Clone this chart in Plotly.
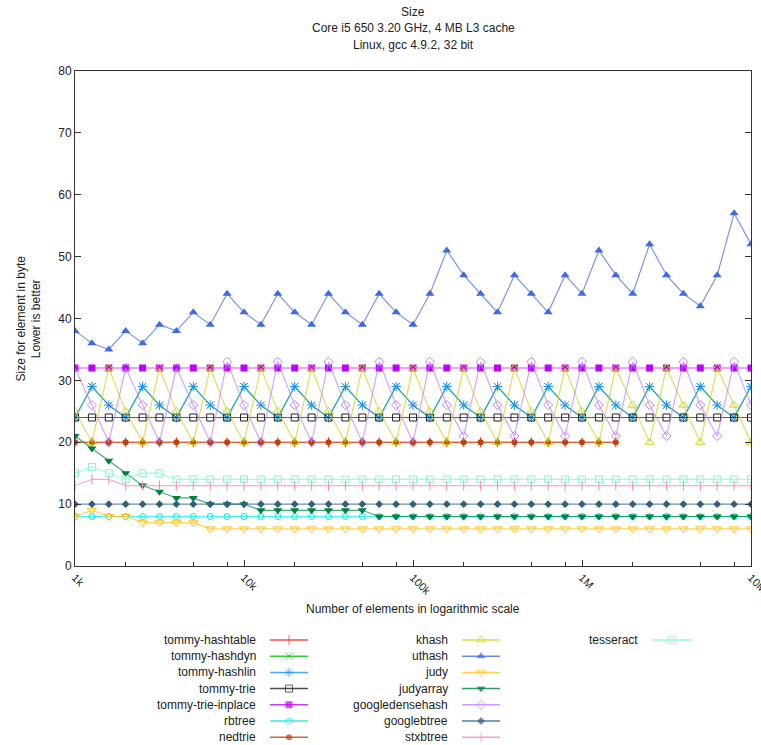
import plotly.graph_objects as go

# ---------------- data ----------------
x_elements = [1000, 1259, 1585, 1995, 2512, 3162, 3981, 5012, 6310, 7943,
              10000, 12589, 15849, 19953, 25119, 31623, 39811, 50119, 63096, 79433,
              100000, 125893, 158489, 199526, 251189, 316228, 398107, 501187, 630957, 794328,
              1000000, 1258925, 1584893, 1995262, 2511886, 3162278, 3981072, 5011872, 6309573, 7943282,
              10000000]

tommy_hashtable = [20, 20, 20, 20, 20, 20, 20, 20, 20, 20, 20, 20, 20, 20, 20, 20, 20, 20, 20, 20,
                   20, 20, 20, 20, 20, 20, 20, 20, 20, 20, 20, 20, 20]
tommy_hashdyn = [24, 29, 26, 24, 29, 26, 24, 29, 26, 24, 29, 26, 24, 29, 26, 24, 29, 26, 24, 29,
                 26, 24, 29, 26, 24, 29, 26, 24, 29, 26, 24, 29, 26, 24, 29, 26, 24, 29, 26, 24, 29]
tommy_hashlin = [24, 29, 26, 24, 29, 26, 24, 29, 26, 24, 29, 26, 24, 29, 26, 24, 29, 26, 24, 29,
                 26, 24, 29, 26, 24, 29, 26, 24, 29, 26, 24, 29, 26, 24, 29, 26, 24, 29, 26, 24, 29]
tommy_trie = [24, 24, 24, 24, 24, 24, 24, 24, 24, 24, 24, 24, 24, 24, 24, 24, 24, 24, 24, 24,
              24, 24, 24, 24, 24, 24, 24, 24, 24, 24, 24, 24, 24, 24, 24, 24, 24, 24, 24, 24, 24]
tommy_trie_inplace = [32, 32, 32, 32, 32, 32, 32, 32, 32, 32, 32, 32, 32, 32, 32, 32, 32, 32, 32, 32,
                      32, 32, 32, 32, 32, 32, 32, 32, 32, 32, 32, 32, 32, 32, 32, 32, 32, 32, 32, 32, 32]
rbtree = [8, 8, 8, 8, 8, 8, 8, 8, 8, 8, 8, 8, 8, 8, 8, 8, 8, 8, 8, 8,
          8, 8, 8, 8, 8, 8, 8, 8, 8, 8, 8, 8, 8, 8, 8, 8, 8, 8, 8, 8, 8]
nedtrie = [20, 20, 20, 20, 20, 20, 20, 20, 20, 20, 20, 20, 20, 20, 20, 20, 20, 20, 20, 20,
           20, 20, 20, 20, 20, 20, 20, 20, 20, 20, 20, 20, 20]
khash = [25, 20, 32, 25, 20, 32, 25, 20, 32, 25, 20, 32, 25, 20, 32, 25, 20, 32, 25, 20,
         32, 25, 20, 32, 25, 20, 32, 25, 20, 32, 25, 20, 32, 26, 20, 32, 26, 20, 32, 26, 20]
uthash = [38, 36, 35, 38, 36, 39, 38, 41, 39, 44, 41, 39, 44, 41, 39, 44, 41, 39, 44, 41,
          39, 44, 51, 47, 44, 41, 47, 44, 41, 47, 44, 51, 47, 44, 52, 47, 44, 42, 47, 57, 52]
judy = [8, 9, 8, 8, 7, 7, 7, 7, 6, 6, 6, 6, 6, 6, 6, 6, 6, 6, 6, 6,
        6, 6, 6, 6, 6, 6, 6, 6, 6, 6, 6, 6, 6, 6, 6, 6, 6, 6, 6, 6, 6]
judyarray = [21, 19, 17, 15, 13, 12, 11, 11, 10, 10, 10, 9, 9, 9, 9, 9, 9, 9, 8, 8,
             8, 8, 8, 8, 8, 8, 8, 8, 8, 8, 8, 8, 8, 8, 8, 8, 8, 8, 8, 8, 8]
googledensehash = [32, 26, 20, 32, 26, 20, 32, 26, 20, 33, 26, 20, 33, 26, 20, 33, 26, 20, 33, 26,
                   20, 33, 26, 21, 33, 26, 21, 33, 26, 21, 33, 26, 21, 33, 26, 21, 33, 26, 21, 33, 26]
googlebtree = [10, 10, 10, 10, 10, 10, 10, 10, 10, 10, 10, 10, 10, 10, 10, 10, 10, 10, 10, 10,
               10, 10, 10, 10, 10, 10, 10, 10, 10, 10, 10, 10, 10, 10, 10, 10, 10, 10, 10, 10, 10]
stxbtree = [13, 14, 14, 13, 13, 13, 13, 13, 13, 13, 13, 13, 13, 13, 13, 13, 13, 13, 13, 13,
            13, 13, 13, 13, 13, 13, 13, 13, 13, 13, 13, 13, 13, 13, 13, 13, 13, 13, 13, 13, 13]
tesseract = [15, 16, 15, 14, 15, 15, 14, 14, 14, 14, 14, 14, 14, 14, 14, 14, 14, 14, 14, 14,
             14, 14, 14, 14, 14, 14, 14, 14, 14, 14, 14, 14, 14, 14, 14, 14, 14, 14, 14, 14, 14]

x_tick_vals = [1000, 10000, 100000, 1000000, 10000000]
x_tick_text = ["1k", "10k", "100k", "1M", "10M"]
x_minor_vals = [2000, 5000, 8000, 20000, 50000, 80000, 200000, 500000, 800000,
                2000000, 5000000, 8000000]

title_lines = ["Size", "Core i5 650 3.20 GHz, 4 MB L3 cache", "Linux, gcc 4.9.2, 32 bit"]

# ---------------- styles ----------------
series = [
    ("tommy-hashtable", tommy_hashtable, "#ff2020", "line-ns", 7, 1),
    ("tommy-hashdyn", tommy_hashdyn, "#00c000", "x-thin", 7, 1),
    ("tommy-hashlin", tommy_hashlin, "#1e90ff", "asterisk", 8, 1),
    ("tommy-trie", tommy_trie, "#202020", "square-open", 7, 1),
    ("tommy-trie-inplace", tommy_trie_inplace, "#c000ff", "square", 7, 0),
    ("rbtree", rbtree, "#00e8e8", "circle-open", 6, 1),
    ("nedtrie", nedtrie, "#c04000", "circle", 6, 0),
    ("khash", khash, "#d0d020", "triangle-up-open", 8, 1),
    ("uthash", uthash, "#4169e1", "triangle-up", 8, 0),
    ("judy", judy, "#ffc020", "triangle-down-open", 8, 1),
    ("judyarray", judyarray, "#008040", "triangle-down", 8, 0),
    ("googledensehash", googledensehash, "#c080ff", "diamond-open", 7, 1),
    ("googlebtree", googlebtree, "#306080", "diamond", 6, 0),
    ("stxbtree", stxbtree, "#ff80c0", "line-ns", 7, 1),
    ("tesseract", tesseract, "#80f8c8", "square-open", 7, 1),
]


def light(hexcol, a=0.7):
    h = hexcol.lstrip("#")
    r, g, b = int(h[0:2], 16), int(h[2:4], 16), int(h[4:6], 16)
    return f"rgba({r},{g},{b},{a})"


W, H = 761, 745
ML, MR, MT, MB = 75, 10, 71, 0
PLOT_BOTTOM = 566
paper_h = H - MT - MB
main_bottom = (H - PLOT_BOTTOM) / paper_h
legend_top = 0.2

FONT = "Liberation Sans"

fig = go.Figure()

for name, vals, col, sym, size, lw in series:
    fig.add_trace(go.Scatter(
        x=x_elements[:len(vals)], y=vals, mode="lines+markers", name=name,
        line=dict(color=light(col), width=1.2),
        marker=dict(symbol=sym, size=size, color=col,
                    line=dict(color=col, width=lw if lw else 0)),
        showlegend=False, xaxis="x", yaxis="y",
    ))

# ---------------- custom gnuplot-style legend ----------------
cols = [(258, 270, 308), (450, 462, 500), (640, 652, 692)]
row0, drow = 640, 16.2
annotations = []
for i, (name, vals, col, sym, size, lw) in enumerate(series):
    c = i // 7
    r = i % 7
    lx, sx0, sx1 = cols[c]
    yy = row0 + r * drow
    fig.add_trace(go.Scatter(
        x=[sx0, (sx0 + sx1) / 2, sx1], y=[yy, yy, yy], mode="lines+markers",
        line=dict(color=light(col, 0.8), width=1.5),
        marker=dict(symbol=sym, size=[0, size, 0], color=col,
                    line=dict(color=col, width=lw if lw else 0)),
        showlegend=False, hoverinfo="skip", xaxis="x2", yaxis="y2",
    ))
    annotations.append(dict(
        x=lx, y=yy, xref="x2", yref="y2", text=name, showarrow=False,
        xanchor="right", yanchor="middle", font=dict(family=FONT, size=12, color="#222222"),
    ))

# titles
for k, t in enumerate(title_lines):
    annotations.append(dict(
        x=0.5, y=(H - (12 + k * 16.5) - MB) / paper_h, xref="paper", yref="paper",
        text=t, showarrow=False, xanchor="center", yanchor="middle",
        font=dict(family=FONT, size=12, color="#222222"),
    ))

annotations.append(dict(
    x=(28 - ML) / (W - ML - MR), y=40, xref="paper", yref="y",
    text="Size for element in byte<br>Lower is better", textangle=-90, showarrow=False,
    xanchor="center", yanchor="middle", font=dict(family=FONT, size=12, color="#222222"),
))
annotations.append(dict(
    x=0.5, y=(H - 609 - MB) / paper_h, xref="paper", yref="paper",
    text="Number of elements in logarithmic scale", showarrow=False,
    xanchor="center", yanchor="middle", font=dict(family=FONT, size=12, color="#222222"),
))

fig.update_layout(
    width=W, height=H,
    margin=dict(l=ML, r=MR, t=MT, b=MB, pad=0),
    paper_bgcolor="white", plot_bgcolor="white",
    showlegend=False,
    font=dict(family=FONT, size=12, color="#222222"),
    annotations=annotations,
    xaxis=dict(
        type="log", range=[3, 7], domain=[0, 1],
        tickvals=x_tick_vals, ticktext=x_tick_text, tickangle=45,
        ticklabeloverflow="allow",
        ticks="inside", ticklen=6, tickcolor="#333333",
        minor=dict(tickvals=x_minor_vals, ticks="inside", ticklen=4, tickcolor="#333333"),
        showline=True, linecolor="#333333", linewidth=1, mirror=True,
        showgrid=False, zeroline=False, tickfont=dict(family=FONT, size=11),
        anchor="y", automargin=False,
    ),
    yaxis=dict(
        range=[0, 80], dtick=10, domain=[main_bottom, 1],
        ticks="inside", ticklen=6, tickcolor="#333333",
        showline=True, linecolor="#333333", linewidth=1, mirror="allticks",
        showgrid=False, zeroline=False, tickfont=dict(family=FONT, size=12),
        anchor="x", automargin=False,
    ),
    xaxis2=dict(range=[ML, W - MR], domain=[0, 1], visible=False, anchor="y2"),
    yaxis2=dict(range=[H - MB, H - MB - legend_top * paper_h], domain=[0, legend_top],
                visible=False, anchor="x2"),
)

fig.write_html("out.html",
               config={"displayModeBar": False},
               post_script="document.body.style.margin='0';document.body.style.overflow='hidden';")
